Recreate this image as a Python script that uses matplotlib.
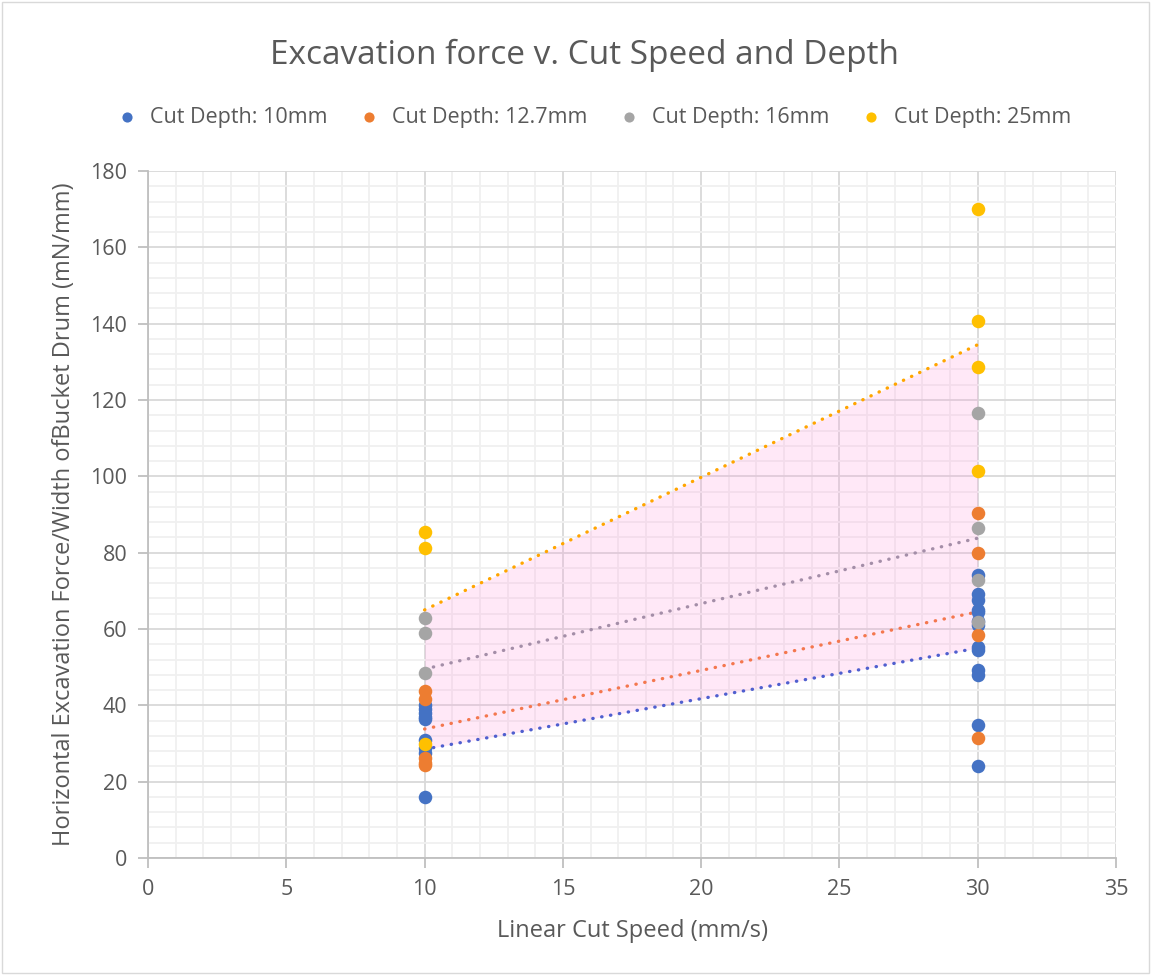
import matplotlib
matplotlib.use("Agg")
import matplotlib.pyplot as plt
from matplotlib.ticker import MultipleLocator

plt.rcParams['font.family'] = ['Open Sans', 'DejaVu Sans']

# Data
series_names = ["Cut Depth: 10mm", "Cut Depth: 12.7mm", "Cut Depth: 16mm", "Cut Depth: 25mm"]
colors = ["#4472C4", "#ED7D31", "#A5A5A5", "#FFC000"]
trend_colors = ["#4F5FCF", "#F4774E", "#A48EA8", "#FFA500"]

d10_x = [10, 10, 10, 10, 10, 10, 10, 10, 10,
         30, 30, 30, 30, 30, 30, 30, 30, 30, 30, 30, 30, 30]
d10_y = [40.0, 39.0, 38.0, 37.0, 36.5, 31.0, 28.7, 27.4, 15.9,
         74.1, 69.3, 67.6, 64.5, 61.0, 55.4, 54.5, 49.3, 47.9, 34.8, 24.1, 65.0, 62.0]
d127_x = [10, 10, 10, 10, 10, 30, 30, 30, 30]
d127_y = [43.8, 41.6, 26.1, 24.3, 25.0, 90.3, 79.8, 58.4, 31.4]
d16_x = [10, 10, 10, 30, 30, 30, 30]
d16_y = [62.8, 58.9, 48.6, 116.5, 86.4, 72.8, 61.9]
d25_x = [10, 10, 10, 30, 30, 30, 30]
d25_y = [85.5, 81.1, 29.8, 170.0, 140.8, 128.6, 101.4]

xs = [d10_x, d127_x, d16_x, d25_x]
ys = [d10_y, d127_y, d16_y, d25_y]

trend_x = [10, 30]
trend_10 = [28.5, 55.0]
trend_127 = [33.8, 64.5]
trend_16 = [49.5, 83.8]
trend_25 = [65.0, 134.5]
trends = [trend_10, trend_127, trend_16, trend_25]

fig = plt.figure(figsize=(11.51, 9.75), dpi=100)
ax = fig.add_axes([0.1286, 0.12, 0.8410, 0.7046])

ax.set_xlim(0, 35)
ax.set_ylim(0, 180)
ax.xaxis.set_major_locator(MultipleLocator(5))
ax.xaxis.set_minor_locator(MultipleLocator(1))
ax.yaxis.set_major_locator(MultipleLocator(20))
ax.yaxis.set_minor_locator(MultipleLocator(4))
ax.grid(which='major', color='#D9D9D9', linewidth=1.3, zorder=0)
ax.grid(which='minor', color='#F0F0F0', linewidth=1.3, zorder=0)
ax.set_axisbelow(True)

for s in ['top', 'right']:
    ax.spines[s].set_visible(False)
for s in ['left', 'bottom']:
    ax.spines[s].set_color('#BFBFBF')
    ax.spines[s].set_linewidth(1.3)

ax.tick_params(which='major', length=7, width=1.3, color='#BFBFBF',
               labelsize=15.5, labelcolor='#595959', pad=8)
ax.tick_params(which='minor', length=0)

# Shaded band between lowest and highest trendline
ax.fill_between(trend_x, trend_10, trend_25, color='#FF99DD', alpha=0.22,
                linewidth=0, zorder=1)

for x, y, c, n in zip(xs, ys, colors, series_names):
    ax.scatter(x, y, s=95, color=c, label=n, zorder=3, linewidths=0)

for t, c in zip(trends, trend_colors):
    ax.plot(trend_x, t, linestyle=(0, (0.1, 2.6)), color=c, linewidth=2.4,
            zorder=2, dash_capstyle='round', solid_capstyle='round')

ax.set_xlabel("Linear Cut Speed (mm/s)", fontsize=17, color='#595959', labelpad=14)
ax.set_ylabel("Horizontal Excavation Force/Width ofBucket Drum (mN/mm)",
              fontsize=17, color='#595959', labelpad=10)

fig.text(0.508, 0.943, "Excavation force v. Cut Speed and Depth",
         ha='center', va='center', fontsize=24, color='#595959')

leg = fig.legend(*ax.get_legend_handles_labels(), loc='center',
                 bbox_to_anchor=(0.511, 0.880), ncol=4, frameon=False,
                 fontsize=15.5, markerscale=0.75, handletextpad=0.05,
                 columnspacing=0.95, labelcolor='#595959')

fig.patches.append(plt.Rectangle((0.002, 0.002), 0.996, 0.996, transform=fig.transFigure,
                                 fill=False, edgecolor='#D9D9D9', linewidth=1))

fig.savefig("out.png", dpi=100)
